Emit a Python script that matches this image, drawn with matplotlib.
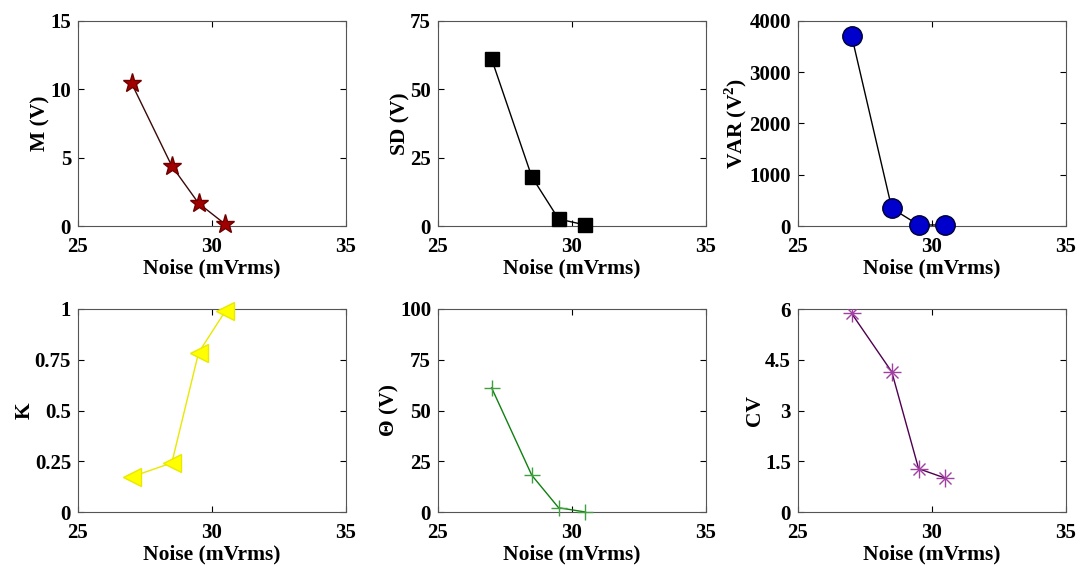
import matplotlib
matplotlib.use("Agg")
import matplotlib.pyplot as plt
from matplotlib.ticker import FixedLocator

noise = [27.0, 28.5, 29.5, 30.5]
m_vals = [10.44, 4.39, 1.66, 0.12]
sd_vals = [61.1, 18.0, 2.56, 0.37]
var_vals = [3714, 345, 20, 20]
k_vals = [0.173, 0.242, 0.785, 0.99]
theta_vals = [61.2, 18.1, 2.1, 0.0]
cv_vals = [5.87, 4.14, 1.28, 1.0]

x_ticks = [25, 30, 35]
m_ticks = [0, 5, 10, 15]
sd_ticks = [0, 25, 50, 75]
var_ticks = [0, 1000, 2000, 3000, 4000]
k_ticks = [0, 0.25, 0.5, 0.75, 1]
k_labels = ["0", "0.25", "0.5", "0.75", "1"]
theta_ticks = [0, 25, 50, 75, 100]
cv_ticks = [0, 1.5, 3, 4.5, 6]
cv_labels = ["0", "1.5", "3", "4.5", "6"]

plt.rcParams['font.family'] = ['Liberation Serif', 'DejaVu Serif']
plt.rcParams['font.weight'] = 'bold'
plt.rcParams['mathtext.fontset'] = 'custom'
plt.rcParams['mathtext.rm'] = 'Liberation Serif:bold'
plt.rcParams['mathtext.bf'] = 'Liberation Serif:bold'

fig = plt.figure(figsize=(10.79, 5.68), dpi=100)
W, H = 1079, 568

cols = [(78, 346), (438, 706), (798, 1066)]
rows = [(21, 226), (309, 512)]

panels = [
    dict(y=m_vals, ticks=m_ticks, labels=None, ylabel="M (V)", marker='*', ms=14,
         mfc='#a00000', mec='#700000', lc='#3a0a0a', lw=1.0),
    dict(y=sd_vals, ticks=sd_ticks, labels=None, ylabel="SD (V)", marker='s', ms=9.5,
         mfc='black', mec='black', lc='black', lw=1.0),
    dict(y=var_vals, ticks=var_ticks, labels=None, ylabel="VAR (V$^2$)", marker='o', ms=14,
         mfc='#0000cc', mec='#000033', lc='black', lw=1.0),
    dict(y=k_vals, ticks=k_ticks, labels=k_labels, ylabel="K", marker='<', ms=13,
         mfc='#ffff00', mec='#e8e800', lc='#e8e800', lw=1.0),
    dict(y=theta_vals, ticks=theta_ticks, labels=None, ylabel="\u0398 (V)", marker='+', ms=12,
         mfc='#40a040', mec='#40a040', lc='#108010', lw=1.0),
    dict(y=cv_vals, ticks=cv_ticks, labels=cv_labels, ylabel="CV", marker='*', ms=12,
         mfc='#a040a0', mec='#a040a0', lc='#500050', lw=1.0),
]

for i, p in enumerate(panels):
    r, c = divmod(i, 3)
    x0, x1 = cols[c]
    top, bot = rows[r]
    ax = fig.add_axes([x0 / W, 1 - bot / H, (x1 - x0) / W, (bot - top) / H])
    if i == 5:
        ax.plot(noise, p['y'], color=p['lc'], lw=p['lw'], zorder=2)
        ax.plot(noise, p['y'], ls='none', marker='x', ms=9, mew=1.0, color=p['mfc'], zorder=3)
        ax.plot(noise, p['y'], ls='none', marker='+', ms=13, mew=1.0, color=p['mfc'], zorder=3)
    else:
        ax.plot(noise, p['y'], color=p['lc'], lw=p['lw'], zorder=2)
        ax.plot(noise, p['y'], ls='none', marker=p['marker'], ms=p['ms'],
                mfc=p['mfc'], mec=p['mec'], mew=1.0, zorder=3, clip_on=False)
    ax.set_xlim(25, 35)
    ax.set_ylim(p['ticks'][0], p['ticks'][-1])
    ax.xaxis.set_major_locator(FixedLocator(x_ticks))
    ax.yaxis.set_major_locator(FixedLocator(p['ticks']))
    if p['labels'] is not None:
        ax.set_yticklabels(p['labels'])
    ax.tick_params(direction='in', top=True, right=True, length=4, width=0.8,
                   labelsize=15, colors='black')
    ax.tick_params(axis='x', pad=8)
    ax.tick_params(axis='y', pad=5)
    for s in ax.spines.values():
        s.set_color('#555555')
        s.set_linewidth(0.8)
    ax.set_xlabel("Noise (mVrms)", fontsize=15.5, fontweight='bold', labelpad=1)
    ax.set_ylabel(p['ylabel'], fontsize=15.5, fontweight='bold', labelpad=0)
    for t in ax.get_xticklabels() + ax.get_yticklabels():
        t.set_fontweight('bold')

fig.savefig("out.png", dpi=100)
